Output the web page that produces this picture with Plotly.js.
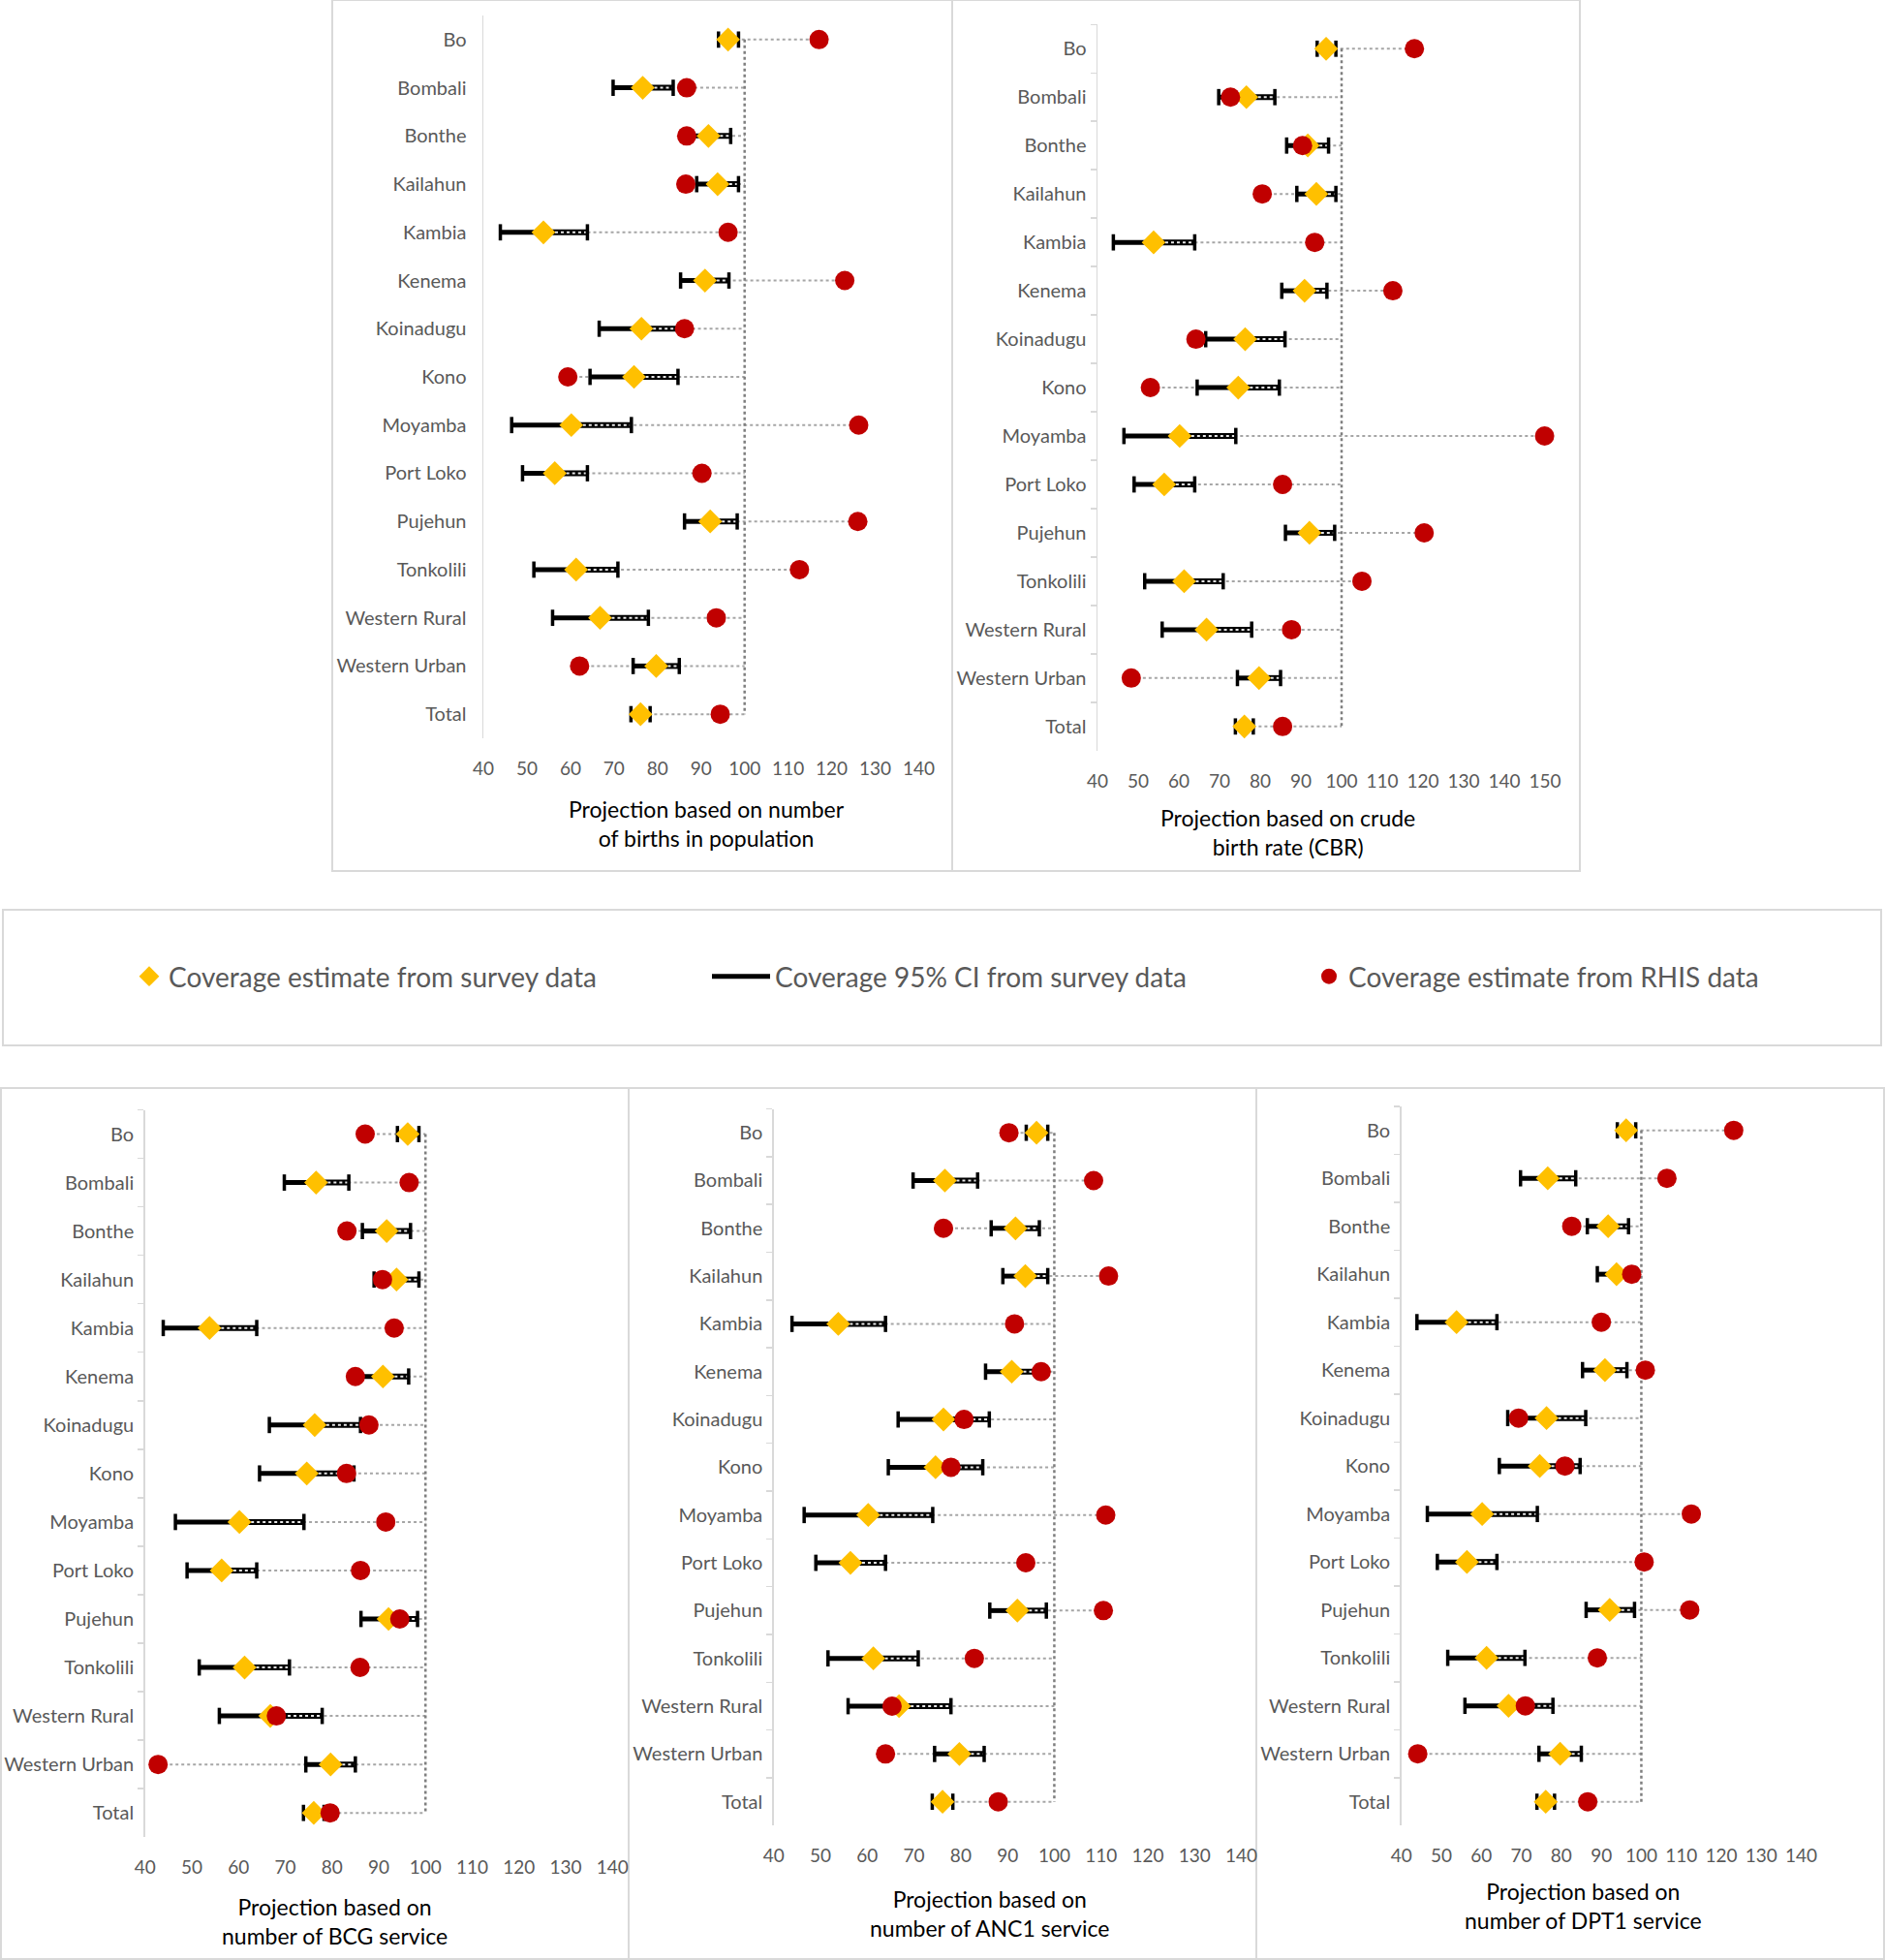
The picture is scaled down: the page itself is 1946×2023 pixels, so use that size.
<!DOCTYPE html>
<html>
<head>
<meta charset="utf-8">
<script src="https://cdn.plot.ly/plotly-3.0.1.min.js"></script>
<style>
html, body { margin: 0; padding: 0; background: #fff; }
#chart { width: 1946px; height: 2023px; }
</style>
</head>
<body>
<div id="chart"></div>
<script>
// districts, top to bottom
var districts = ['Bo', 'Bombali', 'Bonthe', 'Kailahun', 'Kambia', 'Kenema', 'Koinadugu', 'Kono',
  'Moyamba', 'Port Loko', 'Pujehun', 'Tonkolili', 'Western Rural', 'Western Urban', 'Total'];

// survey estimate and 95% CI (same in every panel)
var surveyEst  = [96.2, 76.6, 91.7, 93.8, 53.8, 90.9, 76.3, 74.6, 60.2, 56.4, 92.1, 61.3, 66.8, 79.7, 76.1];
var surveyLow  = [94.0, 69.8, 86.5, 89.0, 43.9, 85.3, 66.6, 64.5, 46.5, 49.0, 86.2, 51.6, 55.9, 74.4, 73.9];
var surveyHigh = [98.6, 83.6, 96.8, 98.6, 63.9, 96.4, 86.1, 84.7, 74.0, 63.9, 98.3, 70.9, 77.9, 85.0, 78.3];

// RHIS estimates per projection
var rhisBirths = [117.1, 86.7, 86.7, 86.5, 96.2, 123.0, 86.2, 59.4, 126.2, 90.2, 126.0, 112.6, 93.5, 62.1, 94.4];
var rhisCBR    = [117.9, 72.7, 90.4, 80.5, 93.4, 112.6, 64.2, 53.0, 149.9, 85.5, 120.3, 105.0, 87.7, 48.3, 85.5];
var rhisBCG    = [87.1, 96.5, 83.2, 90.8, 93.3, 85.0, 87.9, 83.1, 91.5, 86.1, 94.5, 86.0, 68.1, 42.8, 79.6];
var rhisANC1   = [90.3, 108.4, 76.3, 111.6, 91.5, 97.2, 80.7, 77.9, 111.0, 93.9, 110.5, 82.9, 65.3, 63.9, 88.0];
var rhisDPT1   = [123.1, 106.4, 82.6, 97.6, 90.0, 101.0, 69.3, 80.9, 112.5, 100.7, 112.1, 89.0, 71.0, 44.1, 86.6];

var target = 100;
var legendNames = ['Coverage estimate from survey data', 'Coverage 95% CI from survey data', 'Coverage estimate from RHIS data'];

var W = 1946, H = 2023;

// pixel placement of each panel (x of 40 and of xmax, y of the top/bottom category edges)
var panels = [
  {rhis: rhisBirths, xmax: 140, title: 'Projection based on number<br>of births in population',
   x0: 499, x1: 948.5, y0: 16, y1: 762, tx: 729, ty: 850, ticks: false},
  {rhis: rhisCBR, xmax: 150, title: 'Projection based on crude<br>birth rate (CBR)',
   x0: 1133, x1: 1595, y0: 25.3, y1: 774.8, tx: 1329, ty: 858.5, ticks: true},
  {rhis: rhisBCG, xmax: 140, title: 'Projection based on<br>number of BCG service',
   x0: 149.7, x1: 632.3, y0: 1145.5, y1: 1896.2, tx: 345, ty: 1983, ticks: true},
  {rhis: rhisANC1, xmax: 140, title: 'Projection based on<br>number of ANC1 service',
   x0: 798.8, x1: 1281.5, y0: 1144.5, y1: 1884.3, tx: 1021, ty: 1974.5, ticks: true},
  {rhis: rhisDPT1, xmax: 140, title: 'Projection based on<br>number of DPT1 service',
   x0: 1446.7, x1: 1859.6, y0: 1141.9, y1: 1884.4, tx: 1634, ty: 1966.5, ticks: true}
];

var frames = [[343, 0, 983, 899], [983, 0, 1631, 899], [3, 939, 1942, 1079],
  [1, 1123, 649, 2022], [649, 1123, 1297, 2022], [1297, 1123, 1945, 2022]];

var data = [];
var layout = {
  width: W, height: H,
  margin: {l: 0, r: 0, t: 0, b: 0},
  paper_bgcolor: '#ffffff',
  plot_bgcolor: 'rgba(0,0,0,0)',
  font: {family: 'Lato, "Open Sans", sans-serif', color: '#595959'},
  showlegend: true,
  shapes: [],
  annotations: []
};

panels.forEach(function (p, k) {
  var n = k === 0 ? '' : String(k + 1);
  var xa = 'x' + n, ya = 'y' + n;
  var conX = [], conY = [], loX = [], loY = [], hiX = [], hiY = [], capX = [], capY = [];
  for (var i = 0; i < districts.length; i++) {
    var d = districts[i];
    conX.push(Math.min(p.rhis[i], surveyLow[i]), Math.max(p.rhis[i], target), null);
    conY.push(d, d, null);
    loX.push(surveyLow[i], surveyEst[i], null);
    loY.push(d, d, null);
    hiX.push(surveyEst[i], surveyHigh[i], null);
    hiY.push(d, d, null);
    capX.push(surveyLow[i], surveyHigh[i]);
    capY.push(d, d);
  }

  // grey dotted connector
  data.push({x: conX, y: conY, xaxis: xa, yaxis: ya, type: 'scatter', mode: 'lines',
    line: {color: '#a6a6a6', width: 2, dash: 'dot'}, showlegend: false, hoverinfo: 'skip'});
  // 100% reference
  data.push({x: [target, target], y: [districts[0], districts[districts.length - 1]], xaxis: xa, yaxis: ya,
    type: 'scatter', mode: 'lines', line: {color: '#7f7f7f', width: 2.5, dash: 'dot'},
    showlegend: false, hoverinfo: 'skip'});
  // CI lower half (solid)
  data.push({x: loX, y: loY, xaxis: xa, yaxis: ya, type: 'scatter', mode: 'lines',
    line: {color: '#000000', width: 5}, name: legendNames[1], legend: 'legend2',
    showlegend: k === 0, hoverinfo: 'skip'});
  // CI upper half (hatched)
  data.push({x: hiX, y: hiY, xaxis: xa, yaxis: ya, type: 'scatter', mode: 'lines',
    line: {color: '#000000', width: 6}, showlegend: false, hoverinfo: 'skip'});
  data.push({x: hiX, y: hiY, xaxis: xa, yaxis: ya, type: 'scatter', mode: 'lines',
    line: {color: '#e8e8e8', width: 2, dash: 'dot'}, showlegend: false, hoverinfo: 'skip'});
  // CI end caps
  data.push({x: capX, y: capY, xaxis: xa, yaxis: ya, type: 'scatter', mode: 'markers',
    marker: {symbol: 'line-ns', size: 12, line: {color: '#000000', width: 3.5}},
    showlegend: false, hoverinfo: 'skip', cliponaxis: false});
  // survey estimate
  data.push({x: surveyEst, y: districts, xaxis: xa, yaxis: ya, type: 'scatter', mode: 'markers',
    marker: {symbol: 'diamond', size: 19, color: '#ffc000'}, name: legendNames[0], legend: 'legend',
    showlegend: k === 0, cliponaxis: false});
  // RHIS estimate
  data.push({x: p.rhis, y: districts, xaxis: xa, yaxis: ya, type: 'scatter', mode: 'markers',
    marker: {symbol: 'circle', size: 20, color: '#c00000'}, name: legendNames[2], legend: 'legend3',
    showlegend: k === 0, cliponaxis: false});

  layout['xaxis' + n] = {
    domain: [p.x0 / W, p.x1 / W], anchor: ya, range: [40, p.xmax], tick0: 40, dtick: 10,
    showgrid: false, zeroline: false, showline: false, ticks: '',
    tickfont: {size: 19, color: '#595959'}, ticklabelstandoff: 18, fixedrange: true
  };
  layout['yaxis' + n] = {
    domain: [1 - p.y1 / H, 1 - p.y0 / H], anchor: xa, type: 'category',
    categoryorder: 'array', categoryarray: districts, range: [districts.length - 0.5, -0.5],
    showline: true, linecolor: '#d9d9d9', linewidth: 1.5, showgrid: false, zeroline: false,
    ticks: p.ticks ? 'outside' : '', tickson: 'boundaries', ticklen: 6, tickcolor: '#d9d9d9', tickwidth: 1.5,
    tickfont: {size: 20, color: '#595959'}, ticklabelstandoff: p.ticks ? 6 : 12, fixedrange: true
  };

  layout.annotations.push({xref: 'paper', yref: 'paper', x: p.tx / W, y: 1 - p.ty / H,
    xanchor: 'center', yanchor: 'middle', showarrow: false, text: p.title,
    font: {size: 23, color: '#000000'}});
});

frames.forEach(function (f) {
  layout.shapes.push({type: 'rect', xref: 'paper', yref: 'paper',
    x0: f[0] / W, x1: f[2] / W, y0: 1 - f[3] / H, y1: 1 - f[1] / H,
    line: {color: '#d9d9d9', width: 2}, fillcolor: 'rgba(0,0,0,0)', layer: 'below'});
});

var legY = 1 - 1008 / H;
function legendAt(px) {
  return {x: px / W, y: legY, xanchor: 'left', yanchor: 'middle', orientation: 'h',
    bgcolor: 'rgba(0,0,0,0)', font: {size: 28, color: '#595959'}};
}
layout.legend = legendAt(134);
layout.legend2 = legendAt(730);
layout.legend2.itemwidth = 60;
layout.legend3 = legendAt(1352);

Plotly.newPlot('chart', data, layout, {displayModeBar: false, staticPlot: true});
</script>
</body>
</html>
